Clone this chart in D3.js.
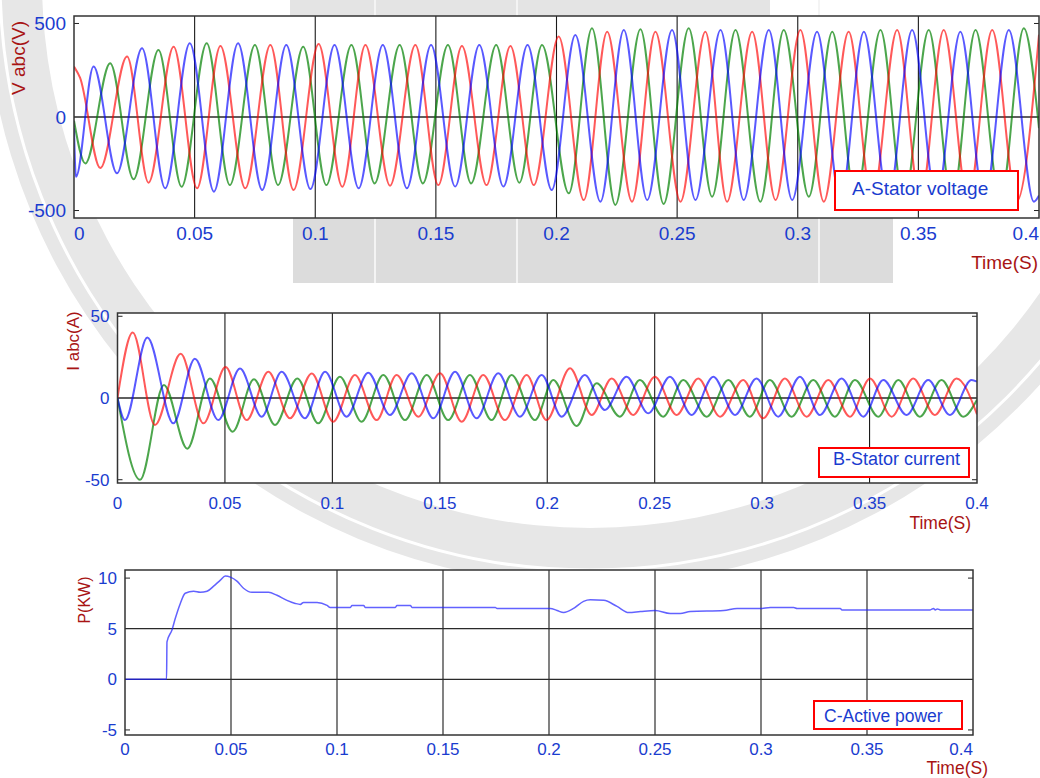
<!DOCTYPE html>
<html>
<head>
<meta charset="utf-8">
<script src="https://cdn.jsdelivr.net/npm/d3@7"></script>
<style>
body { margin: 0; background: #fff; }
svg { display: block; font-family: "Liberation Sans", Arial, sans-serif; }
</style>
</head>
<body>
<script>
// time axis shared by the three scopes
var timeTicks = [0, 0.05, 0.1, 0.15, 0.2, 0.25, 0.3, 0.35, 0.4];
var timeLabels = ["0", "0.05", "0.1", "0.15", "0.2", "0.25", "0.3", "0.35", "0.4"];

// A - stator voltage, extremes of each phase [t (s), V]
var voltRed = [[0,270],[0.0025,210],[0.0109,-273],[0.022,323],[0.0309,-351],[0.0413,376],[0.051,-381],[0.0607,380],[0.071,-381],[0.0814,385],[0.091,-390],[0.1014,390],[0.1112,-373],[0.1208,385],[0.131,-367],[0.1415,385],[0.151,-364],[0.1608,380],[0.171,-364],[0.1809,380],[0.1906,-364],[0.2009,430],[0.2113,-444],[0.221,456],[0.2313,-453],[0.241,456],[0.2514,-453],[0.2617,456],[0.2707,-453],[0.2811,456],[0.2908,-444],[0.3011,465],[0.3108,-453],[0.3211,456],[0.3308,-450],[0.3412,465],[0.3508,-450],[0.3605,465],[0.3706,-450],[0.3806,465],[0.3908,-450],[0.4,440]];
var voltBlue = [[0,-60],[0.0008,-320],[0.0081,270],[0.0178,-301],[0.0282,367],[0.0378,-381],[0.048,394],[0.058,-399],[0.068,394],[0.078,-390],[0.088,385],[0.098,-385],[0.108,385],[0.118,-381],[0.128,385],[0.138,-381],[0.148,385],[0.158,-372],[0.168,385],[0.178,-372],[0.188,385],[0.198,-390],[0.2078,438],[0.2182,-453],[0.2279,465],[0.2376,-444],[0.2479,465],[0.2576,-444],[0.268,465],[0.2776,-444],[0.288,465],[0.2977,-444],[0.308,456],[0.3177,-450],[0.3274,456],[0.3375,-450],[0.3474,465],[0.3575,-450],[0.3674,456],[0.3773,-450],[0.3875,465],[0.3979,-453],[0.4,-420]];
var voltGreen = [[0,-20],[0.0047,-248],[0.015,287],[0.0247,-333],[0.035,358],[0.0446,-373],[0.055,394],[0.0646,-364],[0.075,385],[0.0846,-364],[0.095,376],[0.1046,-364],[0.115,385],[0.1246,-355],[0.135,385],[0.1446,-355],[0.155,385],[0.1646,-355],[0.175,385],[0.1846,-351],[0.194,385],[0.2051,-408],[0.2147,474],[0.2244,-470],[0.2348,469],[0.2444,-465],[0.2548,474],[0.2645,-426],[0.2742,465],[0.2845,-453],[0.2942,465],[0.3046,-426],[0.3143,456],[0.324,-450],[0.3343,465],[0.344,-450],[0.3543,465],[0.364,-450],[0.3737,465],[0.384,-450],[0.3937,474],[0.4,-60]];
var voltTicks = [-500, 0, 500];

// B - stator current, extremes [t (s), A]
var currRed = [[0,0],[0.0071,40],[0.0174,-16.5],[0.0294,27],[0.040,-15.5],[0.0503,19],[0.0601,-13.5],[0.0702,16],[0.0803,-12.4],[0.0904,15],[0.1004,-14.5],[0.1105,14],[0.1206,-13.5],[0.1299,14.1],[0.14,-11.4],[0.1501,15.1],[0.1602,-14.5],[0.1702,14.1],[0.1803,-13.5],[0.1904,14.1],[0.1997,-13.5],[0.2106,18.2],[0.2207,-10.4],[0.23,12],[0.24,-10.4],[0.2501,13],[0.2602,-10.4],[0.2703,12],[0.2804,-11.4],[0.2912,11],[0.3005,-12.4],[0.3106,12],[0.3207,-11.4],[0.3308,11],[0.3409,-11.4],[0.3502,12],[0.3603,-11.4],[0.3703,12],[0.3804,-10.4],[0.3905,12],[0.4,-10]];
var currBlue = [[0,0],[0.0035,-13.5],[0.0139,37],[0.026,-15.5],[0.036,24],[0.0469,-13.5],[0.057,18],[0.0671,-11.4],[0.0764,16],[0.0872,-12.4],[0.0966,16],[0.1066,-11.4],[0.1167,15.5],[0.1268,-10.4],[0.1369,15.1],[0.147,-12.4],[0.1571,16.1],[0.1671,-12.4],[0.1772,15.1],[0.1873,-11.4],[0.1974,14.1],[0.2067,-11.4],[0.2175,14.1],[0.2268,-7.3],[0.2369,13],[0.247,-9.4],[0.2571,13],[0.2672,-10.4],[0.2773,13],[0.2874,-10.4],[0.2974,12],[0.3075,-11.4],[0.3176,13],[0.3269,-10.4],[0.337,12],[0.3471,-11.4],[0.3564,11],[0.3672,-10.4],[0.3773,11],[0.3874,-10.4],[0.3975,11],[0.4,10]];
var currGreen = [[0,0],[0.0105,-50],[0.0216,8],[0.0325,-31],[0.043,12],[0.0536,-20.6],[0.0635,11.4],[0.0733,-16.5],[0.0837,12],[0.0934,-15.5],[0.1035,13],[0.1136,-14.5],[0.1237,14.1],[0.1338,-13.5],[0.1439,14.1],[0.1539,-13.5],[0.164,14.1],[0.1741,-13.5],[0.1834,14.1],[0.1943,-13.5],[0.2028,11],[0.2137,-17.1],[0.223,9],[0.2338,-11.4],[0.2431,11],[0.254,-11.4],[0.2633,11],[0.2742,-11.4],[0.2843,11],[0.2943,-11.4],[0.3036,11],[0.3137,-11.4],[0.3238,11],[0.3339,-11.4],[0.3432,11],[0.3541,-11.4],[0.3634,11],[0.3734,-11.4],[0.3835,11],[0.3936,-11.4],[0.4,-1]];
var currTicks = [-50, 0, 50];

// C - active power [t (s), kW]
var power = [[0,0],[0.0196,0],[0.0198,3.7],[0.0222,4.9],[0.0237,6.0],[0.0261,7.5],[0.0284,8.5],[0.0324,8.7],[0.0355,8.6],[0.0387,8.7],[0.0418,9.2],[0.045,9.8],[0.0473,10.2],[0.0497,10.1],[0.0528,9.7],[0.0559,9.0],[0.0599,8.6],[0.0677,8.6],[0.0717,8.3],[0.0764,7.8],[0.0803,7.5],[0.0827,7.4],[0.0842,7.6],[0.0906,7.6],[0.0953,7.3],[0.0968,7.1],[0.1063,7.1],[0.1071,7.3],[0.1126,7.3],[0.1133,7.1],[0.1275,7.1],[0.1283,7.3],[0.1346,7.3],[0.1354,7.1],[0.1747,7.1],[0.1755,7.0],[0.2006,7.0],[0.2038,6.8],[0.2069,6.6],[0.2116,7.0],[0.2163,7.7],[0.2195,7.85],[0.2258,7.8],[0.2321,7.2],[0.2376,6.6],[0.2431,6.7],[0.2501,6.8],[0.2572,6.5],[0.2619,6.5],[0.2666,6.7],[0.2824,6.8],[0.2887,7.0],[0.2997,7.0],[0.3044,7.1],[0.3154,7.1],[0.317,7.0],[0.3374,7.0],[0.3382,6.86],[0.3798,6.86],[0.3814,7.0],[0.3822,6.86],[0.3832,6.95],[0.3846,6.86],[0.4,6.86]];
var powTicks = [-5, 0, 5, 10];

var W = 1040, H = 778;
var BLUE_TXT = "#1a3ccf", RED_TXT = "#a81414";

var svg = d3.select("body").append("svg")
  .attr("width", W).attr("height", H);

// faint watermark behind the scopes
var wm = svg.append("g");
wm.append("path")
  .attr("d", d3.arc()({innerRadius: 548, outerRadius: 605, startAngle: 0, endAngle: 2 * Math.PI}))
  .attr("transform", "translate(590,-20)")
  .attr("fill", "#e7e7e7");
wm.append("circle").attr("cx", 590).attr("cy", -20).attr("r", 590)
  .attr("fill", "none").attr("stroke", "#fff").attr("stroke-width", 3);
wm.append("rect").attr("x", 293).attr("y", 205).attr("width", 600).attr("height", 78).attr("fill", "#dcdcdc");
wm.append("rect").attr("x", 290).attr("y", 0).attr("width", 480).attr("height", 16).attr("fill", "#e4e4e4");
[375, 517, 819].forEach(function (x) {
  wm.append("line").attr("x1", x).attr("x2", x).attr("y1", 0).attr("y2", 283)
    .attr("stroke", "#f4f4f4").attr("stroke-width", 2);
});

function scope(cfg, idx) {
  var x = d3.scaleLinear().domain([0, 0.4]).range(cfg.xr);
  var y = d3.scaleLinear().domain(cfg.yd).range(cfg.yr);
  var g = svg.append("g");
  var x0 = cfg.xr[0], x1 = cfg.xr[1], yTop = cfg.yr[1], yBot = cfg.yr[0];

  g.append("rect").attr("x", x0).attr("y", yTop)
    .attr("width", x1 - x0).attr("height", yBot - yTop).attr("fill", "#fff");

  g.append("clipPath").attr("id", "clip" + idx)
    .append("rect").attr("x", x0).attr("y", yTop)
    .attr("width", x1 - x0).attr("height", yBot - yTop);

  // vertical grid at every time tick
  g.selectAll(".vg").data(timeTicks.slice(1, -1)).enter().append("line")
    .attr("x1", d => x(d)).attr("x2", d => x(d))
    .attr("y1", yTop).attr("y2", yBot)
    .attr("stroke", "#1a1a1a").attr("stroke-width", 1.1);

  // horizontal grid lines / inner ticks
  cfg.ticks.forEach(function (v) {
    if (cfg.grid.indexOf(v) >= 0) {
      g.append("line").attr("x1", x0).attr("x2", x1)
        .attr("y1", y(v)).attr("y2", y(v))
        .attr("stroke", "#2a2a2a").attr("stroke-width", 1.3);
    } else {
      g.append("line").attr("x1", x0).attr("x2", x0 + 5).attr("y1", y(v)).attr("y2", y(v)).attr("stroke", "#222");
      g.append("line").attr("x1", x1 - 5).attr("x2", x1).attr("y1", y(v)).attr("y2", y(v)).attr("stroke", "#222");
    }
  });

  var line = d3.line().curve(d3.curveMonotoneX)
    .x(d => x(d[0])).y(d => y(d[1]));
  var lines = g.append("g").attr("clip-path", "url(#clip" + idx + ")");
  cfg.series.forEach(function (s) {
    lines.append("path").datum(s.data)
      .attr("fill", "none")
      .attr("stroke", s.color)
      .attr("stroke-width", s.width)
      .attr("stroke-opacity", s.op)
      .attr("stroke-linejoin", "round")
      .attr("d", line);
  });

  g.append("rect").attr("x", x0).attr("y", yTop)
    .attr("width", x1 - x0).attr("height", yBot - yTop)
    .attr("fill", "none").attr("stroke", "#333").attr("stroke-width", 1.5);

  // legend box
  g.append("rect").attr("x", cfg.leg[0]).attr("y", cfg.leg[1])
    .attr("width", cfg.leg[2]).attr("height", cfg.leg[3])
    .attr("fill", "#fff").attr("stroke", "#f00").attr("stroke-width", 2);
  g.append("text").attr("x", cfg.legText[0]).attr("y", cfg.legText[1])
    .attr("font-size", cfg.legSize).attr("fill", BLUE_TXT)
    .text(cfg.legLabel);

  // y tick labels
  g.selectAll(".yl").data(cfg.ticks).enter().append("text")
    .attr("x", x0 - 8).attr("y", d => y(d))
    .attr("dy", "0.36em")
    .attr("text-anchor", "end")
    .attr("font-size", cfg.fs).attr("fill", BLUE_TXT)
    .text(d => d);

  // x tick labels
  g.selectAll(".xl").data(timeTicks).enter().append("text")
    .attr("x", (d, i) => x(d) + (i === 0 ? cfg.firstDx : 0))
    .attr("y", cfg.xLabY)
    .attr("text-anchor", (d, i) => (i === timeTicks.length - 1 ? cfg.lastAnchor : (i === 0 ? cfg.firstAnchor : "middle")))
    .attr("font-size", cfg.fs).attr("fill", BLUE_TXT)
    .text((d, i) => timeLabels[i]);

  g.append("text").attr("x", cfg.timeLab[0]).attr("y", cfg.timeLab[1])
    .attr("text-anchor", "end").attr("font-size", cfg.titleSize).attr("fill", RED_TXT)
    .text("Time(S)");

  g.append("text")
    .attr("transform", "translate(" + cfg.yTitle[0] + "," + cfg.yTitle[1] + ") rotate(-90)")
    .attr("text-anchor", "middle").attr("font-size", cfg.yTitleSize).attr("fill", RED_TXT)
    .text(cfg.yLabel);
}

scope({
  xr: [74, 1039], yd: [-540, 540], yr: [218, 16],
  ticks: voltTicks, grid: [0], fs: 19,
  xLabY: 240, firstAnchor: "start", firstDx: 0, lastAnchor: "end",
  timeLab: [1038, 269], titleSize: 19,
  yLabel: "V abc(V)", yTitle: [25, 58], yTitleSize: 19,
  leg: [835, 171, 183, 39], legText: [852, 195], legSize: 19, legLabel: "A-Stator voltage",
  series: [
    {data: voltGreen, color: "#008000", width: 2, op: 0.7},
    {data: voltRed, color: "#ff0000", width: 2, op: 0.65},
    {data: voltBlue, color: "#0000ff", width: 2, op: 0.65}
  ]
}, 0);

scope({
  xr: [117.5, 977], yd: [-52, 52], yr: [483, 313],
  ticks: currTicks, grid: [0], fs: 17,
  xLabY: 509, firstAnchor: "middle", firstDx: 0, lastAnchor: "middle",
  timeLab: [971, 529], titleSize: 17.5,
  yLabel: "I abc(A)", yTitle: [79, 341], yTitleSize: 17,
  leg: [819, 448, 150, 29], legText: [833, 465], legSize: 18, legLabel: "B-Stator current",
  series: [
    {data: currGreen, color: "#008000", width: 2, op: 0.7},
    {data: currRed, color: "#ff0000", width: 2, op: 0.65},
    {data: currBlue, color: "#0000ff", width: 2, op: 0.65}
  ]
}, 1);

scope({
  xr: [125, 973], yd: [-5.5, 10.8], yr: [735, 570],
  ticks: powTicks, grid: [0, 5], fs: 17,
  xLabY: 755, firstAnchor: "middle", firstDx: 0, lastAnchor: "end",
  timeLab: [988, 774], titleSize: 17.5,
  yLabel: "P(KW)", yTitle: [90, 600], yTitleSize: 16,
  leg: [814, 701, 148, 28], legText: [824, 722], legSize: 17.5, legLabel: "C-Active power",
  series: [
    {data: power, color: "#2020ff", width: 1.5, op: 0.7}
  ]
}, 2);
</script>
</body>
</html>
